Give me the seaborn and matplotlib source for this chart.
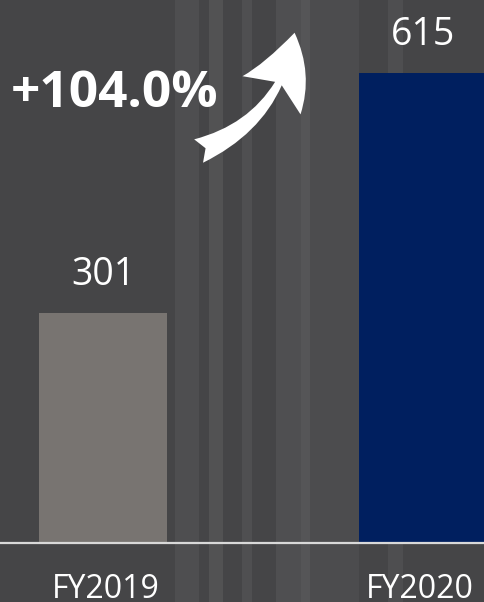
import matplotlib
matplotlib.use("Agg")
import matplotlib.pyplot as plt
from matplotlib.patches import Rectangle, FancyArrowPatch
import pandas as pd
import seaborn as sns

# values
years = ["FY2019", "FY2020"]
revenue = [301, 615]
bar_colors = ["#787471", "#001f5f"]
growth_label = "+104.0%"

sns.set_theme(style="white")
plt.rcParams["font.family"] = ["Open Sans", "DejaVu Sans"]

bg = "#454547"
fig = plt.figure(figsize=(4.85, 6.02), dpi=100, facecolor=bg)

# faint vertical streaks, like the blurred photo behind the slide
for x0, w, a in [(0.57, 0.07, 0.06), (0.36, 0.05, 0.05), (0.43, 0.03, 0.07),
                 (0.62, 0.12, 0.04), (0.80, 0.03, 0.05), (0.50, 0.02, 0.06)]:
    fig.patches.append(Rectangle((x0, 0), w, 1, transform=fig.transFigure,
                                 color="white", alpha=a, lw=0, zorder=0))

ax = fig.add_axes([0, 0, 1, 1])
ax.set_zorder(2)
ax.set_facecolor("none")

df = pd.DataFrame({"year": years, "revenue": revenue})
sns.barplot(data=df, x="year", y="revenue", hue="year", palette=bar_colors,
            width=0.4, legend=False, ax=ax, saturation=1, linewidth=0, zorder=2)

ax.set_xlim(-0.322, 1.194)
ax.set_ylim(-77.2, 710.7)
ax.axhline(0, color="#d9d9d9", lw=1.6, zorder=3)

for i, v in enumerate(revenue):
    ax.text(i, v + 37, str(v), ha="center", va="baseline", color="white",
            fontsize=27, zorder=4)
    ax.text(i + (0.01 if i == 0 else -0.01), -72, years[i], ha="center",
            va="baseline", color="white", fontsize=23, zorder=4)

for s in ax.spines.values():
    s.set_visible(False)
ax.set_xticks([])
ax.set_yticks([])
ax.set_xlabel("")
ax.set_ylabel("")

fig.text(11, 602 - 94, growth_label, transform=None, ha="left", va="center",
         color="white", fontsize=37, fontweight="bold", zorder=5)

arrow = FancyArrowPatch((196, 602 - 152), (295, 602 - 30),
                        transform=None,
                        connectionstyle="arc3,rad=0.3",
                        arrowstyle="fancy,head_length=48,head_width=50,tail_width=18",
                        color="white", lw=0, zorder=5)
fig.patches.append(arrow)

fig.savefig("out.png", dpi=100, facecolor=bg)
